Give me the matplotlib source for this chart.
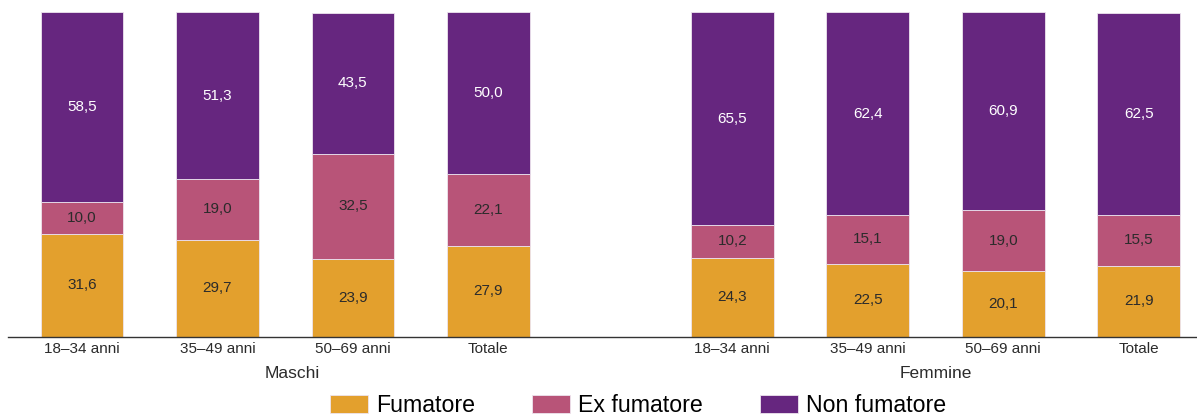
import numpy as np
import matplotlib
matplotlib.use("Agg")
import matplotlib.pyplot as plt
from matplotlib.patches import Patch

plt.rcParams['font.family'] = ['Liberation Sans', 'DejaVu Sans']

# data
groups = ['Maschi', 'Femmine']
ages = ['18–34 anni', '35–49 anni', '50–69 anni', 'Totale']
series = ['Fumatore', 'Ex fumatore', 'Non fumatore']
fumatore = [31.6, 29.7, 23.9, 27.9, 24.3, 22.5, 20.1, 21.9]
ex_fumatore = [10.0, 19.0, 32.5, 22.1, 10.2, 15.1, 19.0, 15.5]
non_fumatore = [58.5, 51.3, 43.5, 50.0, 65.5, 62.4, 60.9, 62.5]

colors = ['#E3A02D', '#B85478', '#66267F']
text_colors = ['#2b2b2b', '#2b2b2b', 'white']

# bar positions: two groups of four with a wider gap
x = np.array([0, 1, 2, 3, 4.8, 5.8, 6.8, 7.8])

fig = plt.figure(figsize=(11.97, 4.17), dpi=100)
ax = fig.add_axes([8 / 1197, (417 - 336.5) / 417, 1 - 8 / 1197, 324 / 417])

bottom = np.zeros(len(x))
for vals, c, tc in zip([fumatore, ex_fumatore, non_fumatore], colors, text_colors):
    vals = np.array(vals)
    ax.bar(x, vals, width=0.61, bottom=bottom, color=c,
           edgecolor='#EDE4EE', linewidth=0.6)
    for xi, b, v in zip(x, bottom, vals):
        ax.text(xi, b + v / 2, f'{v:.1f}'.replace('.', ','), ha='center',
                va='center', color=tc, fontsize=11)
    bottom += vals

ax.set_ylim(0, 100)
ax.set_xlim(-0.545, 7.8 + 0.43)
ax.set_xticks(x)
ax.set_xticklabels(ages * 2, fontsize=11, color='#2b2b2b')
ax.tick_params(axis='x', length=0, pad=4)
ax.set_yticks([])
for s in ['top', 'right', 'left']:
    ax.spines[s].set_visible(False)
ax.spines['bottom'].set_color('#333333')
ax.spines['bottom'].set_linewidth(1)

# group labels
for g, gx in zip(groups, [x[:4].mean() + 0.05, x[4:].mean()]):
    ax.text(gx, -11.5, g, ha='center', va='center', fontsize=12.5,
            color='#2b2b2b', transform=ax.transData)

handles = [Patch(facecolor=c, edgecolor='#EDE4EE', linewidth=0.6) for c in colors]
fig.legend(handles, series, loc='center', bbox_to_anchor=(0.533, 0.028),
           ncol=3, frameon=False, fontsize=16.7, handlelength=1.65,
           handleheight=0.85, columnspacing=2.45, handletextpad=0.35,
           borderpad=0, borderaxespad=0)

fig.savefig('out.png', dpi=100)
